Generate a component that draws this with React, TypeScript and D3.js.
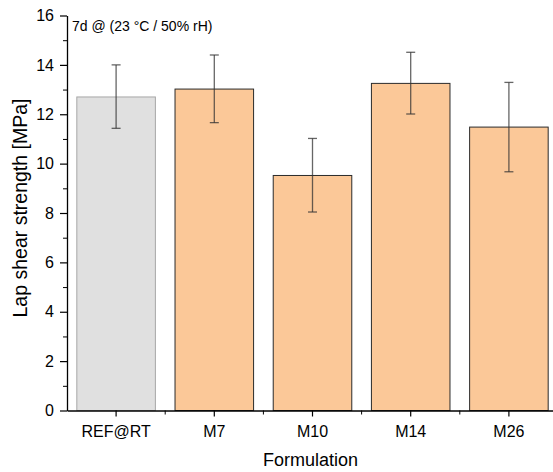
import React, { useEffect, useRef } from 'react'
import * as d3 from 'd3'

const categories = ['REF@RT', 'M7', 'M10', 'M14', 'M26']
const strength = [12.7, 13.02, 9.52, 13.25, 11.48]
const errLow = [11.43, 11.66, 8.04, 12.01, 9.67]
const errHigh = [14.0, 14.4, 11.02, 14.51, 13.29]
const yTicks = [0, 2, 4, 6, 8, 10, 12, 14, 16]

const App = () => {
  const svgRef = useRef<SVGSVGElement>(null)

  useEffect(() => {
    const width = 553
    const height = 472
    const left = 67
    const top = 15.5
    const bottom = 410.5
    const right = 558

    const svg = d3.select(svgRef.current)
    svg.selectAll('*').remove()
    svg.attr('width', width).attr('height', height)

    const x = d3.scaleBand().domain(categories).range([left, right]).paddingInner(0.2).paddingOuter(0.1)
    const y = d3.scaleLinear().domain([0, 16]).range([bottom, top])
    const font = 'Arial, "Liberation Sans", sans-serif'

    // bars
    svg.selectAll('rect.bar')
      .data(categories)
      .join('rect')
      .attr('class', 'bar')
      .attr('x', d => x(d)!)
      .attr('width', x.bandwidth())
      .attr('y', (d, i) => y(strength[i]))
      .attr('height', (d, i) => y(0) - y(strength[i]))
      .attr('fill', (d, i) => i === 0 ? '#e0e0e0' : '#fbc898')
      .attr('stroke', (d, i) => i === 0 ? '#a6a6a6' : '#2b2b2b')
      .attr('stroke-width', 1)

    // error bars
    const eb = svg.append('g').attr('stroke', '#333').attr('stroke-opacity', 0.75).attr('stroke-width', 1.3)
    categories.forEach((c, i) => {
      const cx = x(c)! + x.bandwidth() / 2
      eb.append('line').attr('x1', cx).attr('x2', cx).attr('y1', y(errLow[i])).attr('y2', y(errHigh[i]))
      eb.append('line').attr('x1', cx - 4.5).attr('x2', cx + 4.5).attr('y1', y(errLow[i])).attr('y2', y(errLow[i]))
      eb.append('line').attr('x1', cx - 4.5).attr('x2', cx + 4.5).attr('y1', y(errHigh[i])).attr('y2', y(errHigh[i]))
    })

    // y axis
    const yAxis = svg.append('g').attr('transform', `translate(${left},0)`)
      .call(d3.axisLeft(y).tickValues(yTicks).tickSize(7).tickPadding(6).tickSizeOuter(0))
    yAxis.selectAll('text').attr('font-family', font).attr('font-size', 16).attr('fill', '#000')
    yAxis.select('.domain').attr('stroke', '#000').attr('stroke-width', 1.3)
    yAxis.selectAll('.tick line').attr('stroke-width', 1.2)
    svg.append('g').attr('transform', `translate(${left},0)`)
      .call(d3.axisLeft(y).tickValues(d3.range(1, 16, 2)).tickSize(4).tickFormat(() => '').tickSizeOuter(0))
      .call(g => g.select('.domain').remove())

    // x axis
    const xAxis = svg.append('g').attr('transform', `translate(0,${bottom})`)
      .call(d3.axisBottom(x).tickSize(6).tickPadding(9).tickSizeOuter(0))
    xAxis.selectAll('text').attr('font-family', font).attr('font-size', 16).attr('fill', '#000')
    xAxis.select('.domain').attr('stroke', '#000').attr('stroke-width', 1.3)
    xAxis.selectAll('.tick line').attr('stroke-width', 1.2)
    const minorX = categories.slice(1).map(c => x(c)! - x.step() * x.paddingInner() / 2)
    svg.append('g').selectAll('line')
      .data(minorX)
      .join('line')
      .attr('x1', d => d).attr('x2', d => d)
      .attr('y1', bottom).attr('y2', bottom + 4)
      .attr('stroke', '#000')

    // labels
    svg.append('text')
      .attr('x', (left + right) / 2 - 2)
      .attr('y', 466)
      .attr('text-anchor', 'middle')
      .attr('font-family', font)
      .attr('font-size', 18)
      .text('Formulation')

    svg.append('text')
      .attr('transform', `translate(27,208) rotate(-90)`)
      .attr('text-anchor', 'middle')
      .attr('font-family', font)
      .attr('font-size', 19.5)
      .text('Lap shear strength [MPa]')

    svg.append('text')
      .attr('x', 72)
      .attr('y', 30.5)
      .attr('font-family', font)
      .attr('font-size', 14)
      .text('7d @ (23 °C / 50% rH)')
  }, [])

  return <svg ref={svgRef} style={{ position: 'absolute', left: 0, top: 0 }}></svg>
}

export default App
